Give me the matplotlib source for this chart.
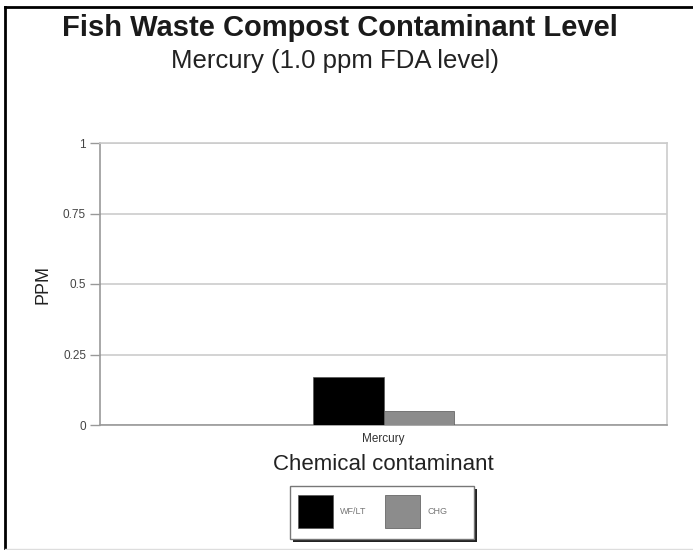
import matplotlib
matplotlib.use('Agg')
import matplotlib.pyplot as plt
from matplotlib.patches import Rectangle

plt.rcParams['font.family'] = ['Liberation Sans', 'DejaVu Sans']

categories = ['Mercury']
series_names = ['WF/LT', 'CHG']
series_values = [[0.17], [0.05]]
series_colors = ['#000000', '#8c8c8c']
yticks = [0, 0.25, 0.5, 0.75, 1]
ytick_labels = ['0', '0.25', '0.5', '0.75', '1']

W, H = 693, 550
fig = plt.figure(figsize=(W / 100, H / 100), dpi=100)

# plot area in pixels: left 100, right 667, top 143, bottom 425
ax = fig.add_axes([100 / W, 1 - 425 / H, 567 / W, 282 / H])

bw = 0.125
for i, (name, vals, col) in enumerate(zip(series_names, series_values, series_colors)):
    xs = [k + (i - 0.5) * bw for k in range(len(categories))]
    ax.bar(xs, vals, width=bw, color=col, edgecolor='#555555', linewidth=0.5, zorder=3, label=name)

ax.set_xlim(-0.5, len(categories) - 0.5)
ax.set_ylim(0, 1)
ax.set_yticks(yticks)
ax.set_yticklabels(ytick_labels, fontsize=8.5, color='#444444')
ax.set_xticks(range(len(categories)))
ax.set_xticklabels(categories, fontsize=8.5, color='#333333')
ax.tick_params(axis='y', length=7, color='#999999', width=1, pad=3)
ax.tick_params(axis='x', length=0, pad=6)
ax.yaxis.grid(True, color='#cccccc', linewidth=1.2, zorder=0)
for s in ['left', 'bottom']:
    ax.spines[s].set_color('#999999')
    ax.spines[s].set_linewidth(1.2)
for s in ['right', 'top']:
    ax.spines[s].set_color('#cccccc')
    ax.spines[s].set_linewidth(1.2)

ax.set_ylabel('PPM', fontsize=13, color='#222222', labelpad=8)
ax.set_xlabel('Chemical contaminant', fontsize=16, color='#222222', labelpad=6)

fig.text(340 / W, 1 - 28 / H, 'Fish Waste Compost Contaminant Level', ha='center', va='center',
         fontsize=21, fontweight='bold', color='#1a1a1a')
fig.text(335 / W, 1 - 61 / H, 'Mercury (1.0 ppm FDA level)', ha='center', va='center',
         fontsize=18.5, color='#222222')

# legend box with drop shadow
lx, ly, lw, lh = 290, 486, 184, 53
fig.patches.append(Rectangle(((lx + 3) / W, 1 - (ly + lh + 3) / H), lw / W, lh / H,
                             transform=fig.transFigure, facecolor='#222222', edgecolor='none'))
fig.patches.append(Rectangle((lx / W, 1 - (ly + lh) / H), lw / W, lh / H,
                             transform=fig.transFigure, facecolor='white', edgecolor='#777777', linewidth=1))
sw_x = [298, 385]
for x0, name, col in zip(sw_x, series_names, series_colors):
    fig.patches.append(Rectangle((x0 / W, 1 - 528 / H), 35 / W, 33 / H, transform=fig.transFigure,
                                 facecolor=col, edgecolor='#555555', linewidth=0.5))
    fig.text((x0 + 42) / W, 1 - 512 / H, name, ha='left', va='center', fontsize=6.5, color='#777777')

# frame lines along the top, left and bottom edges
fig.add_artist(plt.Line2D([5 / W, 1], [1 - 7 / H, 1 - 7 / H], transform=fig.transFigure, color='black', linewidth=2))
fig.add_artist(plt.Line2D([5 / W, 5 / W], [0, 1 - 7 / H], transform=fig.transFigure, color='black', linewidth=2))
fig.add_artist(plt.Line2D([5 / W, 1], [1 / H, 1 / H], transform=fig.transFigure, color='#dddddd', linewidth=1))

fig.savefig('out.png', dpi=100)
